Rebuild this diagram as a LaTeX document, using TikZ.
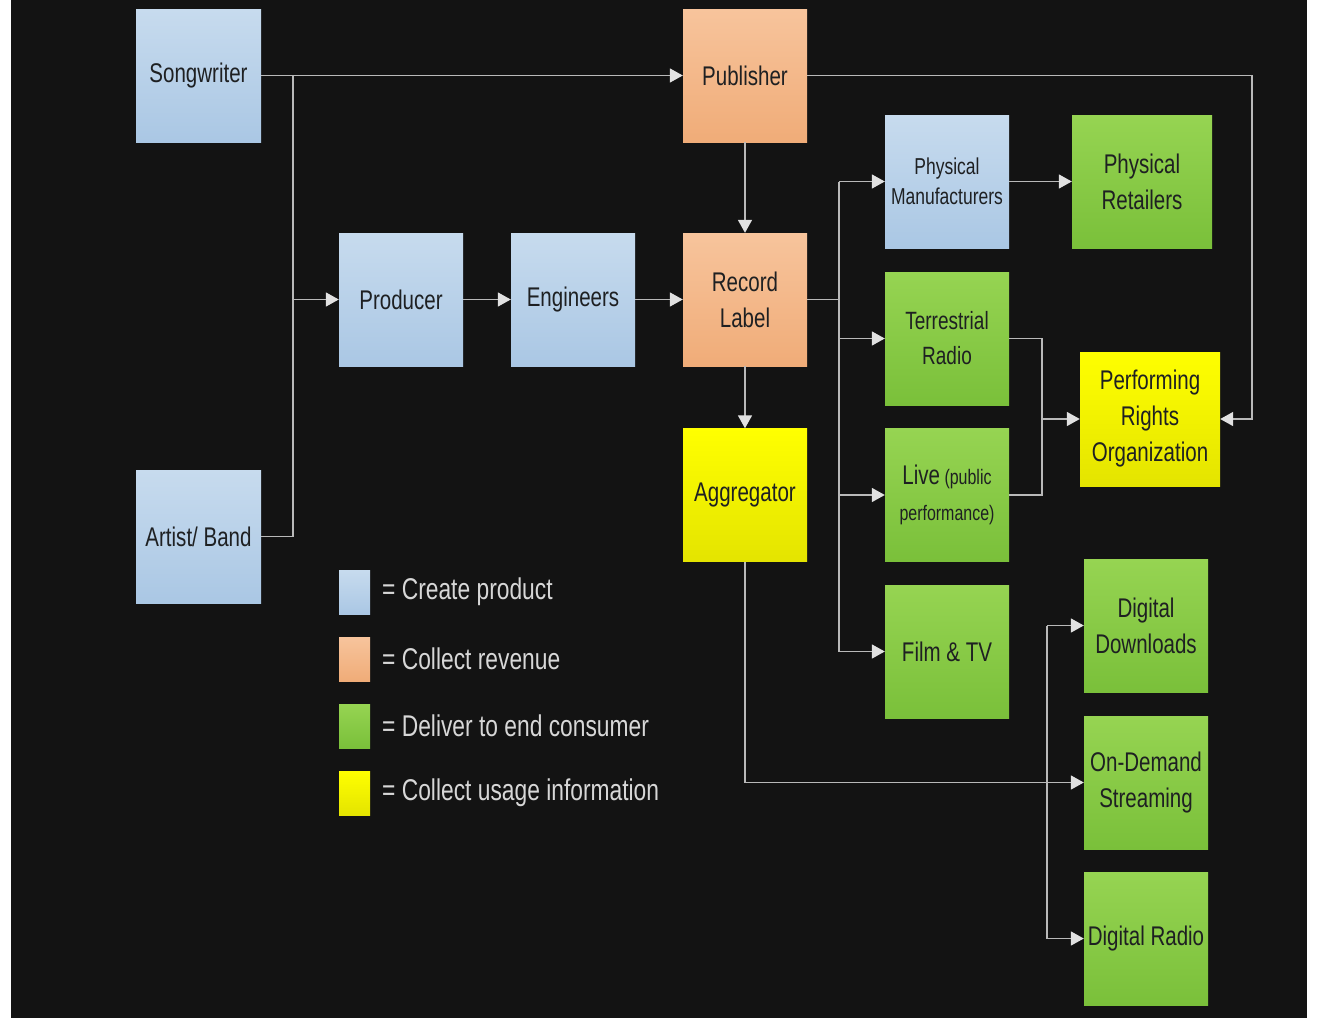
\documentclass[tikz,border=0pt]{standalone}
\usepackage{fontspec}
\setmainfont{Liberation Sans}[FakeStretch=0.76]
\usetikzlibrary{arrows.meta}
\definecolor{bgc}{RGB}{19,19,19}
\definecolor{linec}{RGB}{185,185,185}
\definecolor{arrc}{RGB}{225,225,225}
\definecolor{blueT}{RGB}{199,219,238}
\definecolor{blueB}{RGB}{170,199,228}
\definecolor{orT}{RGB}{247,196,156}
\definecolor{orB}{RGB}{240,172,120}
\definecolor{grT}{RGB}{150,212,82}
\definecolor{grB}{RGB}{122,192,58}
\definecolor{yeT}{RGB}{255,255,0}
\definecolor{yeB}{RGB}{228,228,0}
\definecolor{txt}{RGB}{30,32,34}
\definecolor{legtxt}{RGB}{215,215,215}
\tikzset{
  box/.style={minimum width=124pt, minimum height=133pt, inner sep=0pt, align=center,
    text=txt, font=\fontsize{27}{36}\selectfont},
  bluebox/.style={box, top color=blueT, bottom color=blueB},
  orbox/.style={box, top color=orT, bottom color=orB},
  grbox/.style={box, top color=grT, bottom color=grB},
  yebox/.style={box, top color=yeT, bottom color=yeB},
  line/.style={draw=linec, line width=1.6pt},
  conn/.style={line, -{Triangle[width=14pt,length=13pt,fill=arrc,color=arrc]}},
  legsq/.style={minimum width=31pt, minimum height=44pt, inner sep=0pt},
  legtext/.style={anchor=west, text=legtxt, inner sep=0pt, font=\fontsize{30}{36}\selectfont}
}
\begin{document}
\begin{tikzpicture}[x=1pt,y=-1pt]
\useasboundingbox (0,0) rectangle (1317,1018);
\fill[white] (0,0) rectangle (1317,1018);
\fill[bgc] (11,0) rectangle (1307,1018);

% nodes
\node[bluebox, minimum width=125pt] (song) at (198.5,75.5) {Songwriter};
\node[orbox] (pub) at (745,75.5) {Publisher};
\node[bluebox] (prod) at (401,299.5) {Producer};
\node[bluebox] (eng) at (573,299.5) {Engineers};
\node[orbox] (rec) at (745,299.5) {Record\\Label};
\node[yebox] (agg) at (745,495) {Aggregator};
\node[bluebox, minimum width=125pt] (artist) at (198.5,536.5) {Artist/ Band};
\node[bluebox, font=\fontsize{23}{30}\selectfont] (pman) at (947,181.5) {Physical\\Manufacturers};
\node[grbox, minimum width=140pt] (pret) at (1142,181.5) {Physical\\Retailers};
\node[grbox, font=\fontsize{25}{35}\selectfont] (terr) at (947,338.5) {Terrestrial\\Radio};
\node[grbox, font=\fontsize{21}{36}\selectfont] (live) at (947,495) {{\fontsize{27}{36}\selectfont Live} (public\\performance)};
\node[grbox] (film) at (947,651.5) {Film \& TV};
\node[yebox, minimum width=140pt, minimum height=134pt] (pro) at (1150,419) {Performing\\Rights\\Organization};
\node[grbox] (dd) at (1146,625.5) {Digital\\Downloads};
\node[grbox] (ods) at (1146,782.5) {On-Demand\\Streaming};
\node[grbox] (dr) at (1146,938.5) {Digital Radio};

% legend
\node[legsq, top color=blueT, bottom color=blueB] (l1) at (354.5,592) {};
\node[legsq, top color=orT, bottom color=orB] (l2) at (354.5,659) {};
\node[legsq, top color=grT, bottom color=grB] (l3) at (354.5,726) {};
\node[legsq, top color=yeT, bottom color=yeB] (l4) at (354.5,793) {};
\node[legtext] (t1) at (382,592) {= Create product};
\node[legtext] (t2) at (382,659) {= Collect revenue};
\node[legtext] (t3) at (382,726) {= Deliver to end consumer};
\node[legtext] (t4) at (382,793) {= Collect usage information};

% bus coordinates
\coordinate (busA) at (293,0);
\coordinate (busB) at (839,0);
\coordinate (busC) at (1042,0);
\coordinate (busD) at (1252,0);
\coordinate (busE) at (1047,0);

% connectors
\draw[conn] (song.east) -- (pub.west);
\draw[line] (artist.east) -- (artist.east -| busA) -- (song.east -| busA);
\draw[conn] (prod.west -| busA) -- (prod.west);
\draw[conn] (prod.east) -- (eng.west);
\draw[conn] (eng.east) -- (rec.west);
\draw[conn] (pub.south) -- (rec.north);
\draw[conn] (rec.south) -- (agg.north);
\draw[conn] (pub.east) -- (pub.east -| busD) -- (pro.east -| busD) -- (pro.east);

\draw[line] (rec.east) -- (rec.east -| busB);
\draw[line] (pman.west -| busB) -- (film.west -| busB);
\draw[conn] (pman.west -| busB) -- (pman.west);
\draw[conn] (terr.west -| busB) -- (terr.west);
\draw[conn] (live.west -| busB) -- (live.west);
\draw[conn] (film.west -| busB) -- (film.west);
\draw[conn] (pman.east) -- (pret.west);

\draw[line] (terr.east) -- (terr.east -| busC) -- (live.east -| busC) -- (live.east);
\draw[conn] (pro.west -| busC) -- (pro.west);

\draw[conn] (agg.south) -- (agg.south |- ods.west) -- (ods.west);
\draw[line] (dd.west -| busE) -- (dr.west -| busE);
\draw[conn] (dd.west -| busE) -- (dd.west);
\draw[conn] (dr.west -| busE) -- (dr.west);
\end{tikzpicture}
\end{document}
